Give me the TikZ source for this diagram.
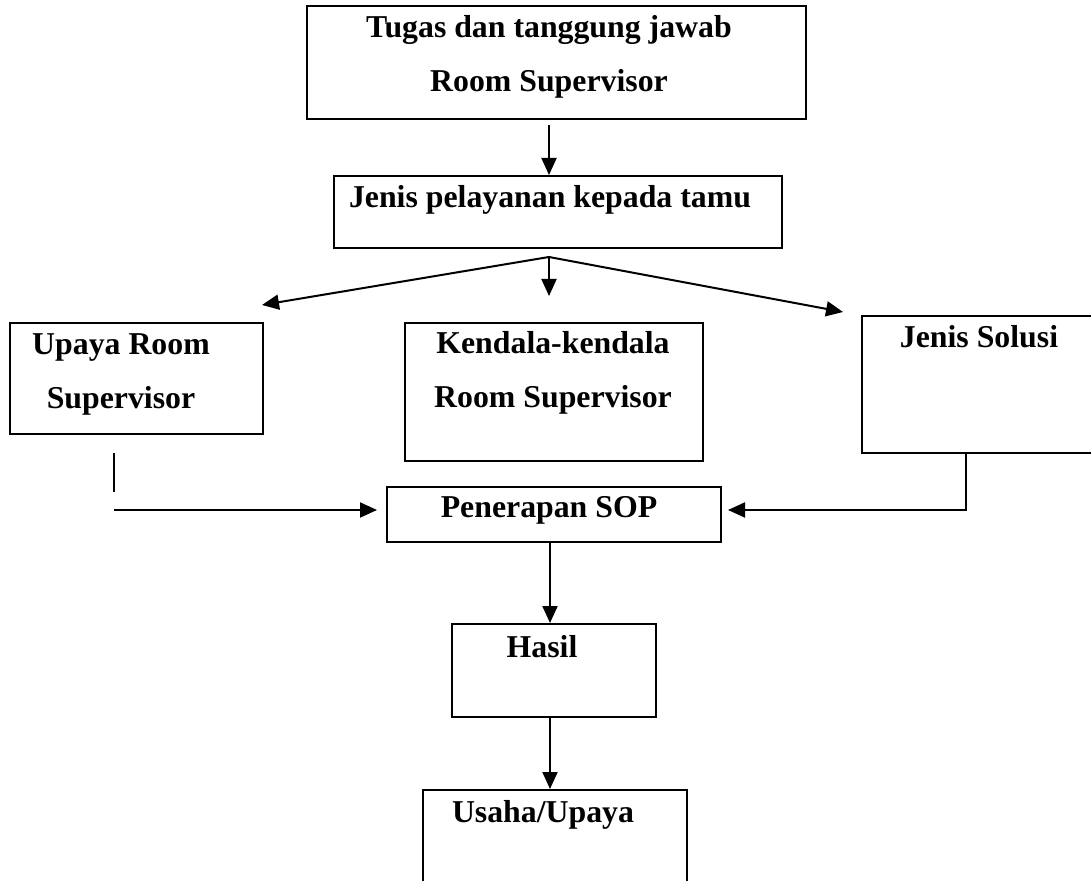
\documentclass[tikz,border=0pt]{standalone}
\usepackage{fontspec}
\setmainfont{Liberation Serif}
\usetikzlibrary{arrows.meta,fit}

\tikzset{
  box/.style={draw, line width=1pt, inner sep=0pt},
  txt/.style={font=\fontsize{15.9}{27}\selectfont\bfseries, align=center, inner sep=0pt},
  line/.style={line width=1pt},
  arr/.style={line width=1pt, -{Triangle[length=8.5pt,width=7.5pt]}}
}

\begin{document}
\begin{tikzpicture}[x=0.5pt, y=-0.5pt]
          \clip (0, 0) rectangle (1091, 881);
          \fill [white] (0, 0) rectangle (1091, 881);

          % boxes
          \node [box, fit={(307, 6) (806, 119)}] (duty) {};
          \node [txt] at (549, 57) {Tugas dan tanggung jawab\\Room Supervisor};
          \node [box, fit={(334, 176) (782, 248)}] (service) {};
          \node [txt] at (550, 200) {Jenis pelayanan kepada tamu};

          \node [box, fit={(10, 323) (263, 434)}] (upaya) {};
          \node [txt] at (121, 374) {Upaya Room\\Supervisor};
          \node [box, fit={(405, 323) (703, 461)}] (kendala) {};
          \node [txt] at (553, 373) {Kendala-kendala\\Room Supervisor};
          \node [box, fit={(862, 316) (1110, 453)}] (solusi) {};
          \node [txt] at (979, 337) {Jenis Solusi};

          \node [box, fit={(387, 487) (721, 542)}] (sop) {};
          \node [txt] at (549, 510) {Penerapan SOP};
          \node [box, fit={(452, 624) (656, 717)}] (hasil) {};
          \node [txt] at (542, 647) {Hasil};
          \node [box, fit={(423, 790) (687, 900)}] (usaha) {};
          \node [txt] at (543, 815) {Usaha/Upaya};

          % connectors
          \coordinate (fork) at (549, 257);
          \coordinate (tipL) at (262, 305);
          \coordinate (tipM) at (549, 296);
          \coordinate (tipR) at (843, 312);
          \draw [arr] (duty.south -| fork) ++(0, 5) -- (service.north -| fork);
          \draw [arr] (fork) -- (tipL);
          \draw [arr] (fork) -- (tipM);
          \draw [arr] (fork) -- (tipR);

          \coordinate (upA) at (114, 453);
          \coordinate (upB) at (114, 492);
          \coordinate (upC) at (114, 510);
          \draw [line] (upA) -- (upB);
          \draw [arr, shorten >=4.5pt] (upC) -- (upC -| sop.west);

          \coordinate (solC) at (966, 510);
          \draw [arr, shorten >=3pt] (solusi.south -| solC) -- (solC) -- (solC -| sop.east);

          \coordinate (axis) at (550, 0);
          \draw [arr] (sop.south -| axis) -- (hasil.north -| axis);
          \draw [arr] (hasil.south -| axis) -- (usaha.north -| axis);
        \end{tikzpicture}
\end{document}
